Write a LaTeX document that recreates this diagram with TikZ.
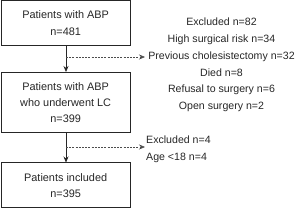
\documentclass[tikz,border=0pt]{standalone}
\usepackage{fontspec}
\setmainfont{Liberation Sans}
\usetikzlibrary{arrows.meta,positioning}
\begin{document}
\begin{tikzpicture}[x=1pt,y=1pt,
  box/.style={draw=black!85,line width=0.8pt,minimum width=129.5pt,align=center,inner sep=0pt,font=\fontsize{10.9}{16.2}\selectfont,text=black!85},
  lbl/.style={align=center,inner sep=0pt,font=\fontsize{10.6}{16.7}\selectfont,text=black!85},
  arr/.style={-{Stealth[length=6pt,width=5pt]},line width=0.7pt,draw=black!85},
  darr/.style={-{Stealth[length=6pt,width=5pt]},line width=0.6pt,draw=black!70,dash pattern=on 2pt off 1.2pt}]
\useasboundingbox (0,0) rectangle (300,-208);
\node[box,minimum height=44.5pt,anchor=north west] (b1) at (0.5,-0.5) {Patients with ABP\\n=481};
\node[box,minimum height=60pt,anchor=north west] (b2) at (0.5,-72) {Patients with ABP\\who underwent LC\\n=399};
\node[box,minimum height=45pt,anchor=north west] (b3) at (0.5,-162.5) {Patients included\\n=395};
\coordinate (t1) at (66,-45);
\draw[arr] (b1.south -| t1) -- (b2.north -| t1);
\coordinate (d1) at (66,-57);
\coordinate (e1) at (145,-57);
\draw[darr] (d1) -- (e1);
\draw[arr] (b2.south -| t1) -- (b3.north -| t1);
\coordinate (d2) at (66,-147);
\coordinate (e2) at (145,-147);
\draw[darr] (d2) -- (e2);
\node[lbl,anchor=center] (ex1) at (221.5,-65) {Excluded n=82\\High surgical risk n=34\\Previous cholesistectomy n=32\\Died n=8\\Refusal to surgery n=6\\Open surgery n=2};
\node[lbl,anchor=west,align=left] (ex2) at (146,-149) {Excluded n=4\\Age {<}18 n=4};
\end{tikzpicture}
\end{document}
